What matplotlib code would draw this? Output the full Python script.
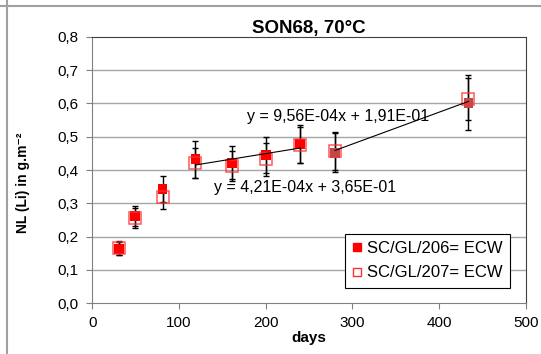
import numpy as np
import matplotlib.pyplot as plt
from matplotlib.ticker import FuncFormatter
from matplotlib.lines import Line2D

plt.rcParams['font.family'] = ['Liberation Sans', 'DejaVu Sans']

# SC/GL/206 (filled)
jours_206 = [31, 49, 81, 119, 161, 200, 240, 280, 434]
nl_206 = [0.164, 0.262, 0.343, 0.432, 0.422, 0.445, 0.477, 0.452, 0.602]
err_206 = [0.02, 0.03, 0.04, 0.055, 0.05, 0.053, 0.057, 0.058, 0.083]

# SC/GL/207 (open)
jours_207 = [31, 49, 81, 119, 161, 200, 240, 280, 434]
nl_207 = [0.166, 0.257, 0.318, 0.420, 0.412, 0.432, 0.475, 0.457, 0.612]
err_207 = [0.02, 0.03, 0.035, 0.045, 0.045, 0.05, 0.055, 0.058, 0.063]

# trendlines: pente, ordonnee, x debut, x fin
pentes = [4.21e-04, 9.56e-04]
ordonnees = [3.65e-01, 1.91e-01]
x_debut = [119, 280]
x_fin = [240, 434]
textes = ['y = 4,21E-04x + 3,65E-01', 'y = 9,56E-04x + 1,91E-01']
pos_textes = [(245, 0.347), (283, 0.56)]

# les deux derniers points sont plus sombres sur l'original
couleurs_206 = ['red'] * 7 + ['#c04848'] * 2

fig = plt.figure(figsize=(5.41, 3.54), dpi=100)
ax = fig.add_axes([0.1706, 0.1432, 0.8011, 0.7531])

# cadre gris autour de la figure
fig.add_artist(Line2D([0, 1], [1 - 6 / 354, 1 - 6 / 354], color='#a0a0a0', lw=1.5))
fig.add_artist(Line2D([7 / 541, 7 / 541], [0, 1], color='#a0a0a0', lw=1.5))

for y in np.arange(0.1, 0.8, 0.1):
    ax.axhline(y, color='#a6a6a6', lw=1, zorder=0)

ax.errorbar(jours_207, nl_207, yerr=err_207, fmt='none', ecolor='black',
            elinewidth=1, capsize=2.5, zorder=2)
ax.errorbar(jours_206, nl_206, yerr=err_206, fmt='none', ecolor='black',
            elinewidth=1, capsize=2.5, zorder=2)

ax.scatter(jours_206, nl_206, marker='s', c=couleurs_206, s=7 ** 2, lw=0, zorder=3)
ax.plot(jours_207, nl_207, 's', mfc='none', mec='#ff3030', mew=1.1, ms=8.5,
        ls='none', zorder=4, alpha=0.8)

for p, o, a, b, t, pos in zip(pentes, ordonnees, x_debut, x_fin, textes, pos_textes):
    xx = np.array([a, b])
    ax.plot(xx, p * xx + o, color='black', lw=0.8, zorder=5)
    ax.text(pos[0], pos[1], t, fontsize=11.5, ha='center', va='center')

ax.set_xlim(0, 500)
ax.set_ylim(0, 0.8)
ax.set_xticks(range(0, 501, 100))
ax.set_yticks(np.arange(0, 0.81, 0.1))
ax.yaxis.set_major_formatter(FuncFormatter(lambda v, _: f'{v:.1f}'.replace('.', ',')))
ax.tick_params(direction='out', length=4, color='#808080', labelsize=11)
ax.tick_params(axis='y', pad=6)
ax.tick_params(axis='x', pad=5)

for s in ['left', 'bottom']:
    ax.spines[s].set_color('#808080')
for s in ['top', 'right']:
    ax.spines[s].set_color('#404040')

ax.set_title('SON68, 70°C', fontsize=13.5, fontweight='bold', pad=3)
ax.set_xlabel('days', fontsize=11, fontweight='bold', labelpad=1)
ax.set_ylabel('NL (Li) in g.m⁻²', fontsize=10, fontweight='bold')
ax.yaxis.set_label_coords(-0.1435, 0.451)

poignees = [
    Line2D([], [], marker='s', color='red', ls='none', ms=6),
    Line2D([], [], marker='s', mfc='white', mec='#ff3030', mew=1, ls='none', ms=6),
]
leg = ax.legend(poignees, ['SC/GL/206= ECW', 'SC/GL/207= ECW'],
                loc='lower right', bbox_to_anchor=(0.964, 0.058), fontsize=12,
                frameon=True, fancybox=False, edgecolor='black', framealpha=1,
                handlelength=0.5, handletextpad=0.35, borderpad=0.45,
                labelspacing=0.55, borderaxespad=0)
leg.get_frame().set_linewidth(0.8)

fig.savefig('out.png', dpi=100)
